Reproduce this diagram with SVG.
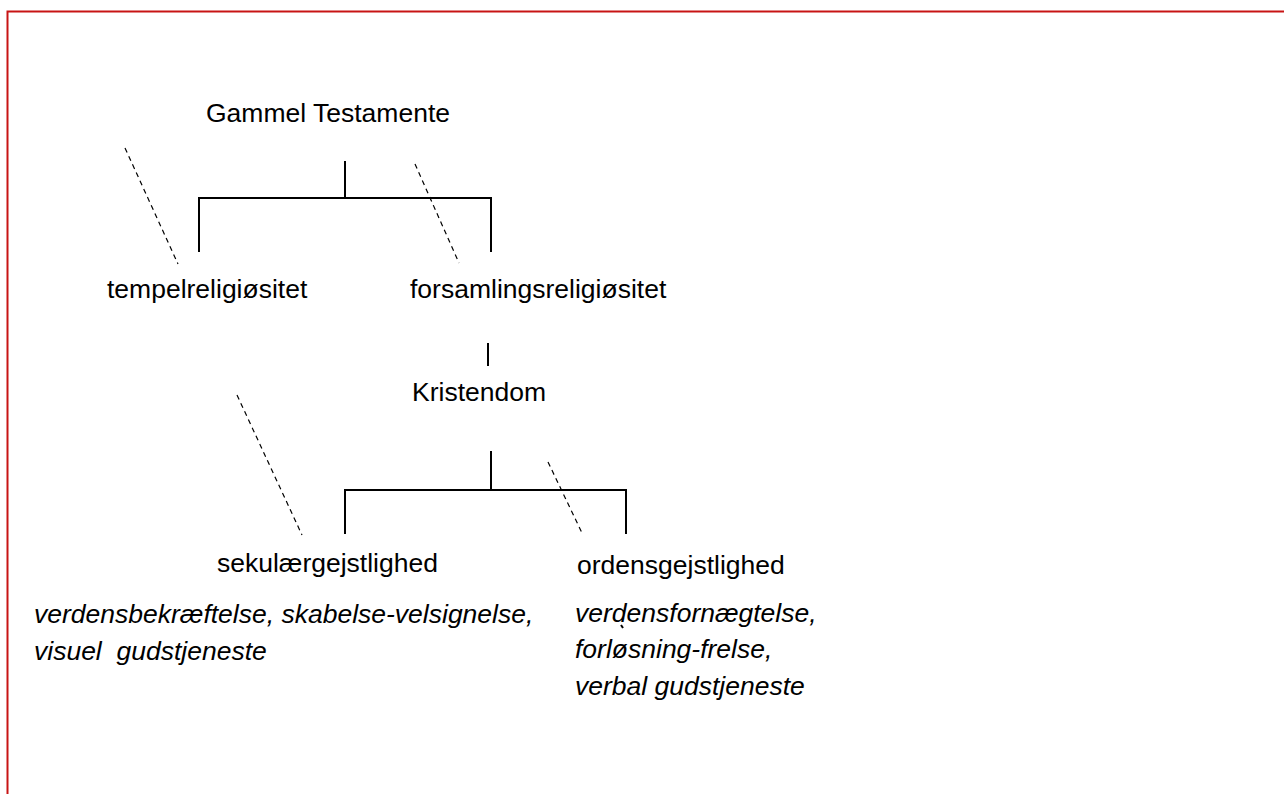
<svg xmlns="http://www.w3.org/2000/svg" width="1284" height="794" viewBox="0 0 1284 794">
<style>
.t{font-family:"Liberation Sans",Arial,sans-serif;font-size:26.5px;fill:#000}
.i{font-family:"Liberation Sans",Arial,sans-serif;font-size:26.5px;font-style:italic;fill:#000}
.s{stroke:#000;stroke-width:2;fill:none}
.d{stroke:#000;stroke-width:1.2;fill:none;stroke-dasharray:5,4}
</style>
<rect width="1284" height="794" fill="#fff"/>
<path d="M7.5 794 V11.5 H1284" fill="none" stroke="#c81414" stroke-width="2"/>
<g id="connectors">
<path class="s" d="M345 161 V198 M199 252 V198 H491 V252"/>
<path class="s" d="M488 343 V366"/>
<path class="s" d="M491 451 V490 M345 534 V490 H626 V534"/>
<path class="d" d="M125 148 L178 264"/>
<path class="d" d="M415 164 L459 263"/>
<path class="d" d="M237 395 L302 535"/>
<path class="d" d="M548 462 L583 535"/>
<path class="s" stroke-width="1" d="M621 625 L623 628"/>
</g>
<g id="gammel"><text class="t" x="206" y="122">Gammel Testamente</text></g>
<g id="tempel"><text class="t" x="107" y="298">tempelreligiøsitet</text></g>
<g id="forsamling"><text class="t" x="410" y="298">forsamlingsreligiøsitet</text></g>
<g id="kristendom"><text class="t" x="412" y="401">Kristendom</text></g>
<g id="sekulaer"><text class="t" x="217" y="572">sekulærgejstlighed</text>
<text class="i" x="34" y="623">verdensbekræftelse, skabelse-velsignelse,</text>
<text class="i" x="34" y="660" xml:space="preserve">visuel  gudstjeneste</text></g>
<g id="ordens"><text class="t" x="577" y="574">ordensgejstlighed</text>
<text class="i" x="575" y="622">verdensfornægtelse,</text>
<text class="i" x="575" y="658">forløsning-frelse,</text>
<text class="i" x="575" y="695">verbal gudstjeneste</text></g>
</svg>
